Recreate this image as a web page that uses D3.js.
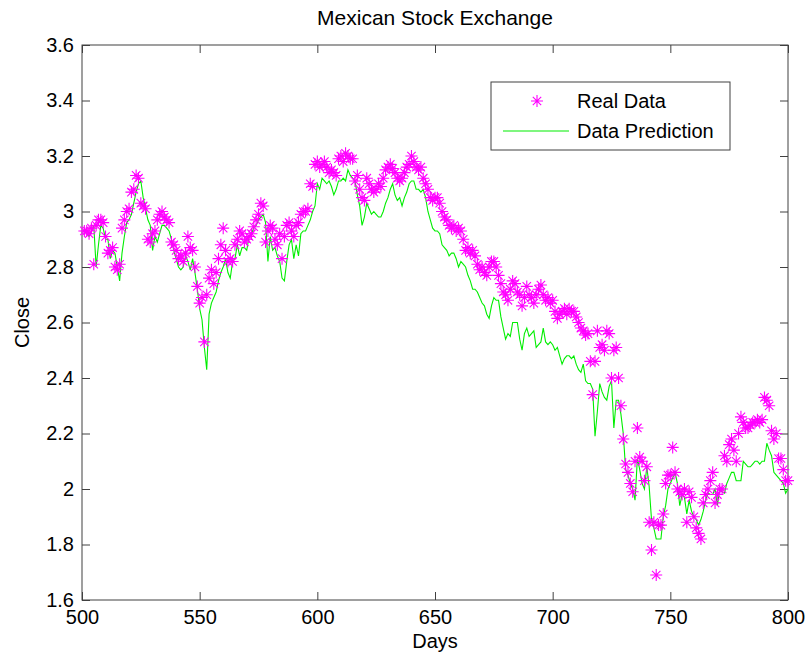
<!DOCTYPE html>
<html>
<head>
<meta charset="utf-8">
<script src="https://cdn.jsdelivr.net/npm/d3@7"></script>
<style>
  body { margin: 0; background: #fff; }
  svg { display: block; font-family: "Liberation Sans", Arial, sans-serif; }
</style>
</head>
<body>
<div id="chart"></div>
<script>
// Data (days 501..800)
const startDay = 501;

const realData = [
  2.93, 2.93, 2.92, 2.94, 2.81, 2.95, 2.97, 2.97, 2.96, 2.91,
  2.85, 2.86, 2.87, 2.80, 2.79, 2.81, 2.94, 2.97, 3.00, 3.01,
  3.07, 3.08, 3.13, 3.12, 3.03, 3.02, 3.01, 2.90, 2.89, 2.92,
  2.93, 2.97, 2.99, 3.00, 2.98, 2.97, 2.96, 2.89, 2.88, 2.86,
  2.83, 2.84, 2.82, 2.85, 2.91, 2.87, 2.86, 2.80, 2.73, 2.67,
  2.69, 2.53, 2.70, 2.76, 2.79, 2.74, 2.78, 2.83, 2.88, 2.94,
  2.86, 2.82, 2.83, 2.82, 2.88, 2.90, 2.93, 2.92, 2.89, 2.90,
  2.91, 2.92, 2.945, 2.97, 2.99, 3.03, 3.02, 2.89, 2.93, 2.95,
  2.94, 2.90, 2.88, 2.92, 2.83, 2.91, 2.95, 2.96, 2.93, 2.91,
  2.95, 2.96, 2.99, 3.00, 3.00, 3.01, 3.10, 3.09, 3.17, 3.18,
  3.16, 3.17, 3.18, 3.16, 3.14, 3.15, 3.14, 3.13, 3.19, 3.20,
  3.18, 3.21, 3.20, 3.19, 3.19, 3.11, 3.13, 3.08, 3.05, 3.04,
  3.12, 3.10, 3.08, 3.07, 3.08, 3.10, 3.09, 3.12, 3.15, 3.16,
  3.17, 3.155, 3.14, 3.12, 3.11, 3.12, 3.14, 3.16, 3.17, 3.20,
  3.18, 3.16, 3.15, 3.16, 3.12, 3.10, 3.08, 3.05, 3.04, 3.05,
  3.05, 3.03, 3.00, 2.98, 2.97, 2.95, 2.94, 2.95, 2.93, 2.94,
  2.93, 2.90, 2.86, 2.87, 2.85, 2.86, 2.84, 2.81, 2.79, 2.80,
  2.78, 2.77, 2.80, 2.82, 2.82, 2.80, 2.77, 2.74, 2.71, 2.70,
  2.68, 2.72, 2.75, 2.74, 2.71, 2.70, 2.66, 2.69, 2.73, 2.70,
  2.69, 2.67, 2.70, 2.72, 2.735, 2.70, 2.68, 2.69, 2.67, 2.68,
  2.64, 2.615, 2.63, 2.64, 2.65, 2.63, 2.65, 2.64, 2.64, 2.62,
  2.60, 2.58, 2.57, 2.555, 2.56, 2.46, 2.34, 2.46, 2.57, 2.51,
  2.52, 2.50, 2.57, 2.56, 2.40, 2.50, 2.51, 2.40, 2.30, 2.18,
  2.09, 2.06, 2.02, 1.99, 2.10, 2.22, 2.115, 2.10, 2.03, 2.08,
  1.88, 1.78, 1.88, 1.69, 1.87, 1.87, 1.91, 2.02, 2.05, 2.05,
  2.15, 2.06, 2.00, 1.99, 1.98, 2.00, 1.88, 1.99, 1.97, 1.90,
  1.86, 1.84, 1.82, 1.95, 1.98, 2.00, 2.03, 2.06, 1.95, 1.98,
  2.00, 2.00, 2.12, 2.10, 2.16, 2.18, 2.14, 2.10, 2.20, 2.26,
  2.24, 2.22, 2.22, 2.23, 2.24, 2.24, 2.25, 2.24, 2.25, 2.33,
  2.32, 2.30, 2.21, 2.18, 2.20, 2.11, 2.11, 2.07, 2.03, 2.03
];

const prediction = [
  2.93, 2.92, 2.91, 2.93, 2.95, 2.80, 2.88, 2.95, 2.94, 2.90,
  2.90, 2.83, 2.86, 2.85, 2.80, 2.75, 2.85, 2.91, 2.96, 2.97,
  2.99, 3.03, 3.07, 3.10, 3.11, 3.05, 3.01, 2.97, 2.95, 2.86,
  2.91, 2.89, 2.92, 2.95, 2.95, 2.94, 2.93, 2.90, 2.86, 2.83,
  2.80, 2.79, 2.80, 2.84, 2.82, 2.79, 2.83, 2.78, 2.72, 2.65,
  2.61, 2.51, 2.43, 2.63, 2.67, 2.69, 2.71, 2.75, 2.78, 2.80,
  2.83, 2.78, 2.76, 2.82, 2.83, 2.88, 2.84, 2.87, 2.87, 2.86,
  2.91, 2.92, 2.94, 2.95, 2.97, 2.98, 2.99, 2.96, 2.82, 2.91,
  2.86, 2.87, 2.84, 2.82, 2.76, 2.75, 2.82, 2.88, 2.90, 2.83,
  2.88, 2.84, 2.92, 2.93, 2.93, 2.95, 2.97, 3.00, 3.02, 3.10,
  3.08, 3.12, 3.11, 3.10, 3.11, 3.09, 3.06, 3.08, 3.11, 3.11,
  3.12, 3.11, 3.15, 3.13, 3.12, 3.11, 3.06, 3.02, 2.95, 2.98,
  3.03, 3.01, 2.99, 3.00, 2.99, 2.98, 2.98, 3.00, 3.03, 3.05,
  3.08, 3.10, 3.06, 3.04, 3.05, 3.02, 3.05, 3.07, 3.10, 3.11,
  3.11, 3.08, 3.08, 3.07, 3.08, 3.05, 3.00, 2.97, 2.94, 2.93,
  2.93, 2.92, 2.88, 2.87, 2.86, 2.84, 2.85, 2.85, 2.83, 2.80,
  2.82, 2.81, 2.80, 2.77, 2.75, 2.72, 2.72, 2.71, 2.69, 2.67,
  2.66, 2.63, 2.615, 2.66, 2.69, 2.68, 2.68, 2.62, 2.58, 2.54,
  2.56, 2.55, 2.60, 2.60, 2.60, 2.54, 2.50, 2.56, 2.58, 2.55,
  2.56, 2.57, 2.51, 2.52, 2.53, 2.58, 2.53, 2.52, 2.53, 2.52,
  2.50, 2.51, 2.48, 2.45, 2.47, 2.48, 2.48, 2.47, 2.48, 2.45,
  2.43, 2.42, 2.45, 2.39, 2.38, 2.38, 2.36, 2.19, 2.28, 2.38,
  2.35, 2.33, 2.32, 2.37, 2.39, 2.22, 2.32, 2.32, 2.27, 2.20,
  2.07, 2.05, 2.02, 2.00, 1.96, 2.11, 2.07, 2.02, 2.00, 2.08,
  2.01, 1.89, 1.86, 1.82, 1.82, 1.82, 1.90, 1.94, 2.00, 2.02,
  2.04, 2.06, 2.02, 1.94, 1.98, 1.97, 1.91, 1.96, 1.92, 1.90,
  1.89, 1.87, 1.89, 1.92, 1.96, 1.985, 1.98, 1.98, 2.00, 1.94,
  2.00, 1.99, 1.985, 2.02, 2.04, 2.06, 2.06, 2.03, 2.03, 2.03,
  2.10, 2.09, 2.08, 2.08, 2.09, 2.10, 2.10, 2.09, 2.10, 2.10,
  2.165, 2.14, 2.12, 2.06, 2.05, 2.04, 2.03, 2.02, 1.985, 2.00
];

const xTicks = [500, 550, 600, 650, 700, 750, 800];
const yTicks = [1.6, 1.8, 2.0, 2.2, 2.4, 2.6, 2.8, 3.0, 3.2, 3.4, 3.6];

// Chart Dimensions
const W = 805, H = 660;
const margin = { top: 45, right: 17, bottom: 60, left: 82 };
const width = W - margin.left - margin.right;
const height = H - margin.top - margin.bottom;

const svg = d3.select("#chart")
    .append("svg")
    .attr("width", W)
    .attr("height", H);

const g = svg.append("g")
    .attr("transform", `translate(${margin.left},${margin.top})`);

const x = d3.scaleLinear().domain([500, 800]).range([0, width]);
const y = d3.scaleLinear().domain([1.6, 3.6]).range([height, 0]);

const fmtY = d => d3.format(".1f")(d).replace(/\.0$/, "");

const axisColor = "#404040";
const fontSize = 20;

function styleAxis(sel, noText) {
    sel.select(".domain").remove();
    sel.selectAll(".tick line").attr("stroke", axisColor);
    sel.selectAll(".tick text")
        .attr("fill", "#000")
        .attr("font-family", "Liberation Sans, Arial, sans-serif")
        .style("font-size", fontSize + "px");
    if (noText) sel.selectAll(".tick text").remove();
}

// Axes (ticks inward, MATLAB style)
g.append("g")
    .attr("transform", `translate(0,${height})`)
    .call(d3.axisBottom(x).tickValues(xTicks).tickSize(-8).tickPadding(10).tickFormat(d3.format("d")))
    .call(s => styleAxis(s));

g.append("g")
    .call(d3.axisTop(x).tickValues(xTicks).tickSize(-8))
    .call(s => styleAxis(s, true));

g.append("g")
    .call(d3.axisLeft(y).tickValues(yTicks).tickSize(-8).tickPadding(8).tickFormat(fmtY))
    .call(s => styleAxis(s));

g.append("g")
    .attr("transform", `translate(${width},0)`)
    .call(d3.axisRight(y).tickValues(yTicks).tickSize(-8))
    .call(s => styleAxis(s, true));

// Box
g.append("rect")
    .attr("width", width)
    .attr("height", height)
    .attr("fill", "none")
    .attr("stroke", axisColor)
    .attr("stroke-width", 1);

// Prediction line
const line = d3.line()
    .x((d, i) => x(startDay + i))
    .y(d => y(d));

g.append("path")
    .datum(prediction)
    .attr("fill", "none")
    .attr("stroke", "#00ee00")
    .attr("stroke-width", 1.1)
    .attr("d", line);

// Star markers
const starPath = "M-6,0L6,0M0,-6L0,6M-4.2,-4.2L4.2,4.2M-4.2,4.2L4.2,-4.2";

g.selectAll(".star")
    .data(realData)
    .enter()
    .append("path")
    .attr("class", "star")
    .attr("transform", (d, i) => `translate(${x(startDay + i)},${y(d)})`)
    .attr("d", starPath)
    .attr("fill", "none")
    .attr("stroke", "#ff00ff")
    .attr("stroke-width", 1.1);

// Title and labels
svg.append("text")
    .attr("x", margin.left + width / 2)
    .attr("y", 25)
    .attr("text-anchor", "middle")
    .style("font-size", "21px")
    .text("Mexican Stock Exchange");

svg.append("text")
    .attr("x", margin.left + width / 2)
    .attr("y", 648)
    .attr("text-anchor", "middle")
    .style("font-size", fontSize + "px")
    .text("Days");

svg.append("text")
    .attr("transform", `translate(29,${margin.top + height / 2}) rotate(-90)`)
    .attr("text-anchor", "middle")
    .style("font-size", fontSize + "px")
    .text("Close");

// Legend
const legend = svg.append("g").attr("transform", "translate(491,82)");

legend.append("rect")
    .attr("width", 239)
    .attr("height", 68)
    .attr("fill", "#fff")
    .attr("stroke", axisColor);

legend.append("path")
    .attr("transform", "translate(46,19)")
    .attr("d", starPath)
    .attr("fill", "none")
    .attr("stroke", "#ff00ff")
    .attr("stroke-width", 1.1);

legend.append("line")
    .attr("x1", 12).attr("x2", 78)
    .attr("y1", 49).attr("y2", 49)
    .attr("stroke", "#00ee00")
    .attr("stroke-width", 1.1);

legend.append("text")
    .attr("x", 86).attr("y", 26)
    .style("font-size", fontSize + "px")
    .text("Real Data");

legend.append("text")
    .attr("x", 86).attr("y", 56)
    .style("font-size", fontSize + "px")
    .text("Data Prediction");
</script>
</body>
</html>
